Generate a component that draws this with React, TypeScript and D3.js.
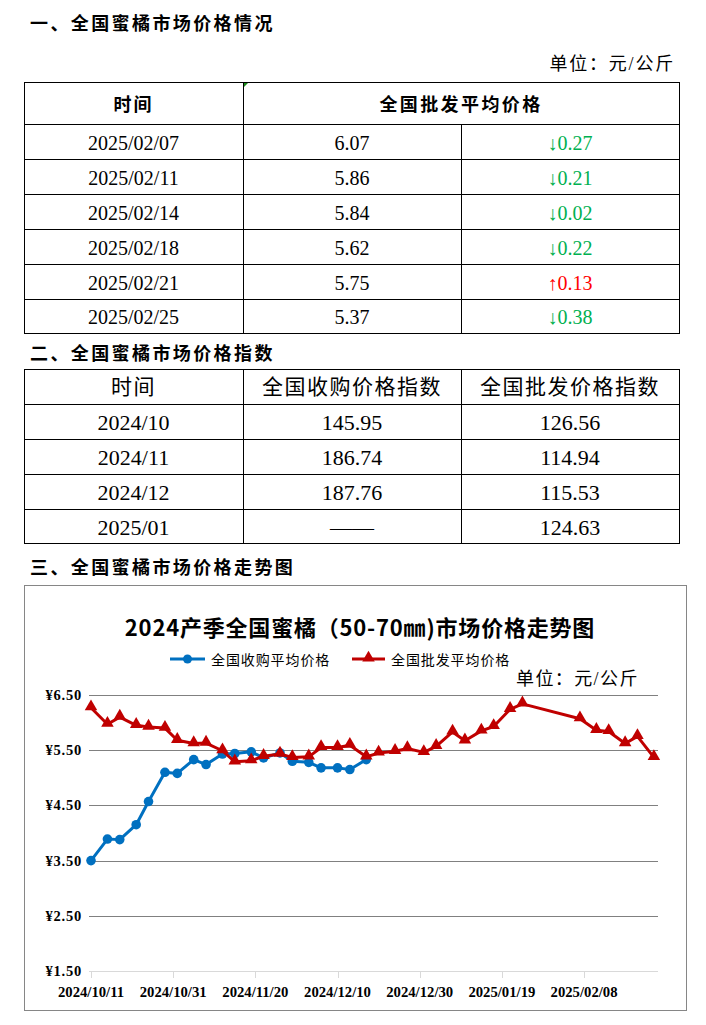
import React from "react";
import * as d3 from "d3";

// ---------- data ----------
const t1Dates = ["2025/02/07", "2025/02/11", "2025/02/14", "2025/02/18", "2025/02/21", "2025/02/25"];
const t1Prices = ["6.07", "5.86", "5.84", "5.62", "5.75", "5.37"];
const t1Changes = ["↓0.27", "↓0.21", "↓0.02", "↓0.22", "↑0.13", "↓0.38"];

const t2Months = ["2024/10", "2024/11", "2024/12", "2025/01"];
const t2Purchase = ["145.95", "186.74", "187.76", "——"];
const t2Wholesale = ["126.56", "114.94", "115.53", "124.63"];

const purchaseDates = [
  "2024-10-11", "2024-10-15", "2024-10-18", "2024-10-22", "2024-10-25", "2024-10-29",
  "2024-11-01", "2024-11-05", "2024-11-08", "2024-11-12", "2024-11-15", "2024-11-19",
  "2024-11-22", "2024-11-26", "2024-11-29", "2024-12-03", "2024-12-06", "2024-12-10",
  "2024-12-13", "2024-12-17",
];
const purchaseValues = [
  3.5, 3.89, 3.88, 4.15, 4.57, 5.1, 5.08, 5.33, 5.24, 5.43, 5.44, 5.47, 5.36, 5.45, 5.3,
  5.28, 5.18, 5.18, 5.15, 5.33,
];

const wholesaleDates = [
  "2024-10-11", "2024-10-15", "2024-10-18", "2024-10-22", "2024-10-25", "2024-10-29",
  "2024-11-01", "2024-11-05", "2024-11-08", "2024-11-12", "2024-11-15", "2024-11-19",
  "2024-11-22", "2024-11-26", "2024-11-29", "2024-12-03", "2024-12-06", "2024-12-10",
  "2024-12-13", "2024-12-17", "2024-12-20", "2024-12-24", "2024-12-27", "2024-12-31",
  "2025-01-03", "2025-01-07", "2025-01-10", "2025-01-14", "2025-01-17", "2025-01-21",
  "2025-01-24", "2025-02-07", "2025-02-11", "2025-02-14", "2025-02-18", "2025-02-21",
  "2025-02-25",
];
const wholesaleValues = [
  6.27, 5.97, 6.1, 5.95, 5.92, 5.9, 5.68, 5.62, 5.63, 5.49, 5.29, 5.31, 5.39, 5.43, 5.37,
  5.38, 5.55, 5.55, 5.59, 5.38, 5.45, 5.48, 5.53, 5.46, 5.57, 5.83, 5.67, 5.85, 5.93, 6.24,
  6.34, 6.07, 5.86, 5.84, 5.62, 5.75, 5.37,
];

const xTickDates = ["2024-10-11", "2024-10-31", "2024-11-20", "2024-12-10", "2024-12-30", "2025-01-19", "2025-02-08"];
const yTicks = [1.5, 2.5, 3.5, 4.5, 5.5, 6.5];

const seriesNames = ["全国收购平均价格", "全国批发平均价格"];

// ---------- styles ----------
const SERIF = "'Liberation Serif', 'Times New Roman', 'Noto Sans CJK SC', serif";
const CJK = "'Noto Sans CJK SC', sans-serif";
const BLUE = "#0070C0";
const RED = "#C00000";
const GREEN = "#00B050";

const W = 706;
const H = 1025;

const parse = (s: string) => new Date(s + "T00:00:00Z");

export default function App() {
  // table geometry
  const tL = 24, tR = 679, c1 = 243, c2 = 461;
  const t1Rows = [82, 124, 159, 194, 229, 264, 299, 333];
  const t2Rows = [369, 404, 439, 474, 509, 543];

  // chart
  const x = d3.scaleUtc().domain([parse("2024-10-11"), parse("2025-02-26")]).range([91, 658]);
  const y = d3.scaleLinear().domain([1.5, 6.5]).range([971, 695]);
  const purchase = purchaseDates.map((d, i) => ({ d: parse(d), v: purchaseValues[i] }));
  const wholesale = wholesaleDates.map((d, i) => ({ d: parse(d), v: wholesaleValues[i] }));
  const line = d3.line<{ d: Date; v: number }>().x((p) => x(p.d)).y((p) => y(p.v));
  const tri = d3.symbol().type(d3.symbolTriangle).size(68)();

  const col1c = (tL + c1) / 2;
  const col2c = (c1 + c2) / 2;
  const col3c = (c2 + tR) / 2;

  return (
    <svg width={W} height={H} style={{ position: "absolute", left: 0, top: 0, background: "#fff" }}>
      <rect x={0} y={0} width={W} height={H} fill="#fff" />
      {/* heading 1 */}
      <text x={30} y={22} fontFamily={CJK} fontWeight={700} fontSize={18} letterSpacing={2.4} dominantBaseline="central" fill="#000">
        一、全国蜜橘市场价格情况
      </text>
      <text x={675} y={64} fontFamily={SERIF} fontSize={18} letterSpacing={1.8} textAnchor="end" dominantBaseline="central" fill="#000">
        单位：元/公斤
      </text>

      {/* table 1 */}
      <g stroke="#000" strokeWidth={1} shapeRendering="crispEdges">
        <rect x={tL + 0.5} y={t1Rows[0] + 0.5} width={tR - tL} height={t1Rows[7] - t1Rows[0]} fill="none" />
        {t1Rows.slice(1, 7).map((r) => (
          <line key={r} x1={tL} x2={tR} y1={r + 0.5} y2={r + 0.5} />
        ))}
        <line x1={c1 + 0.5} x2={c1 + 0.5} y1={t1Rows[0]} y2={t1Rows[7]} />
        <line x1={c2 + 0.5} x2={c2 + 0.5} y1={t1Rows[1]} y2={t1Rows[7]} />
      </g>
      <path d={`M${c1 + 1},${t1Rows[0] + 1}L${c1 + 5},${t1Rows[0] + 1}L${c1 + 1},${t1Rows[0] + 5}Z`} fill="#1a8a1a" />
      <text x={col1c} y={103} fontFamily={CJK} fontWeight={700} fontSize={18} letterSpacing={2} textAnchor="middle" dominantBaseline="central">
        时间
      </text>
      <text x={(c1 + tR) / 2} y={103} fontFamily={CJK} fontWeight={700} fontSize={18} letterSpacing={2.4} textAnchor="middle" dominantBaseline="central">
        全国批发平均价格
      </text>
      {t1Dates.map((d, i) => {
        const cy = (t1Rows[i + 1] + t1Rows[i + 2]) / 2 + 1;
        const up = t1Changes[i].startsWith("↑");
        return (
          <g key={d} fontFamily={SERIF} fontSize={20} dominantBaseline="central" textAnchor="middle">
            <text x={col1c} y={cy} fill="#000">{d}</text>
            <text x={col2c} y={cy} fill="#000">{t1Prices[i]}</text>
            <text x={col3c} y={cy} fill={up ? "#FF0000" : GREEN}>{t1Changes[i]}</text>
          </g>
        );
      })}

      {/* heading 2 */}
      <text x={30} y={352} fontFamily={CJK} fontWeight={700} fontSize={18} letterSpacing={2.4} dominantBaseline="central" fill="#000">
        二、全国蜜橘市场价格指数
      </text>
      <g stroke="#000" strokeWidth={1} shapeRendering="crispEdges">
        <rect x={tL + 0.5} y={t2Rows[0] + 0.5} width={tR - tL} height={t2Rows[5] - t2Rows[0]} fill="none" />
        {t2Rows.slice(1, 5).map((r) => (
          <line key={r} x1={tL} x2={tR} y1={r + 0.5} y2={r + 0.5} />
        ))}
        <line x1={c1 + 0.5} x2={c1 + 0.5} y1={t2Rows[0]} y2={t2Rows[5]} />
        <line x1={c2 + 0.5} x2={c2 + 0.5} y1={t2Rows[0]} y2={t2Rows[5]} />
      </g>
      <g fontFamily={SERIF} fontSize={21} letterSpacing={1.5} textAnchor="middle" dominantBaseline="central">
        <text x={col1c} y={387}>时间</text>
        <text x={col2c} y={387}>全国收购价格指数</text>
        <text x={col3c} y={387}>全国批发价格指数</text>
      </g>
      {t2Months.map((m, i) => {
        const cy = (t2Rows[i + 1] + t2Rows[i + 2]) / 2 + 1;
        return (
          <g key={m} fontFamily={SERIF} fontSize={22} dominantBaseline="central" textAnchor="middle">
            <text x={col1c} y={cy}>{m}</text>
            <text x={col2c} y={cy}>{t2Purchase[i]}</text>
            <text x={col3c} y={cy}>{t2Wholesale[i]}</text>
          </g>
        );
      })}

      {/* heading 3 */}
      <text x={30} y={566} fontFamily={CJK} fontWeight={700} fontSize={18} letterSpacing={2.4} dominantBaseline="central" fill="#000">
        三、全国蜜橘市场价格走势图
      </text>

      {/* chart box */}
      <rect x={24.5} y={585.5} width={662} height={425} fill="#fff" stroke="#868686" strokeWidth={1} />
      <text x={360} y={626} fontFamily={CJK} fontWeight={700} fontSize={22} letterSpacing={0.8} textAnchor="middle" dominantBaseline="central">
        2024产季全国蜜橘（50-70㎜)市场价格走势图
      </text>
      {/* legend */}
      <g>
        <line x1={170} x2={205} y1={659} y2={659} stroke={BLUE} strokeWidth={3} />
        <circle cx={187.5} cy={659} r={4.5} fill={BLUE} />
        <text x={211} y={659} fontFamily={CJK} fontSize={14} letterSpacing={0.9} dominantBaseline="central">{seriesNames[0]}</text>
        <line x1={352} x2={385} y1={659} y2={659} stroke={RED} strokeWidth={3} />
        <path d={tri || ""} transform="translate(368.5,658)" fill={RED} />
        <text x={391} y={659} fontFamily={CJK} fontSize={14} letterSpacing={0.9} dominantBaseline="central">{seriesNames[1]}</text>
      </g>
      <text x={516} y={679} fontFamily={SERIF} fontSize={18} letterSpacing={1.4} dominantBaseline="central">单位：元/公斤</text>

      {/* grid */}
      <g shapeRendering="crispEdges">
        {yTicks.slice(1).map((t) => (
          <line key={t} x1={89} x2={658} y1={Math.round(y(t)) + 0.5} y2={Math.round(y(t)) + 0.5} stroke="#808080" strokeWidth={1} />
        ))}
        <line x1={89} x2={658} y1={971.5} y2={971.5} stroke="#D9D9D9" strokeWidth={1} />
        {xTickDates.map((d) => (
          <line key={d} x1={Math.round(x(parse(d))) + 0.5} x2={Math.round(x(parse(d))) + 0.5} y1={971} y2={978} stroke="#D9D9D9" strokeWidth={1} />
        ))}
      </g>
      {yTicks.map((t) => (
        <text key={t} x={82} y={y(t)} fontFamily={SERIF} fontWeight={700} fontSize={14.5} letterSpacing={0.8} textAnchor="end" dominantBaseline="central">
          {"¥" + t.toFixed(2)}
        </text>
      ))}
      {xTickDates.map((d) => (
        <text key={d} x={x(parse(d))} y={992} fontFamily={SERIF} fontWeight={700} fontSize={14.7} textAnchor="middle" dominantBaseline="central">
          {d.replace(/-/g, "/")}
        </text>
      ))}

      {/* series */}
      <path d={line(purchase) || ""} fill="none" stroke={BLUE} strokeWidth={3} strokeLinejoin="round" />
      {purchase.map((p, i) => (
        <circle key={i} cx={x(p.d)} cy={y(p.v)} r={4.8} fill={BLUE} />
      ))}
      <path d={line(wholesale) || ""} fill="none" stroke={RED} strokeWidth={3} strokeLinejoin="round" />
      {wholesale.map((p, i) => (
        <path key={i} d={tri || ""} transform={`translate(${x(p.d)},${y(p.v) - 1})`} fill={RED} />
      ))}
    </svg>
  );
}
